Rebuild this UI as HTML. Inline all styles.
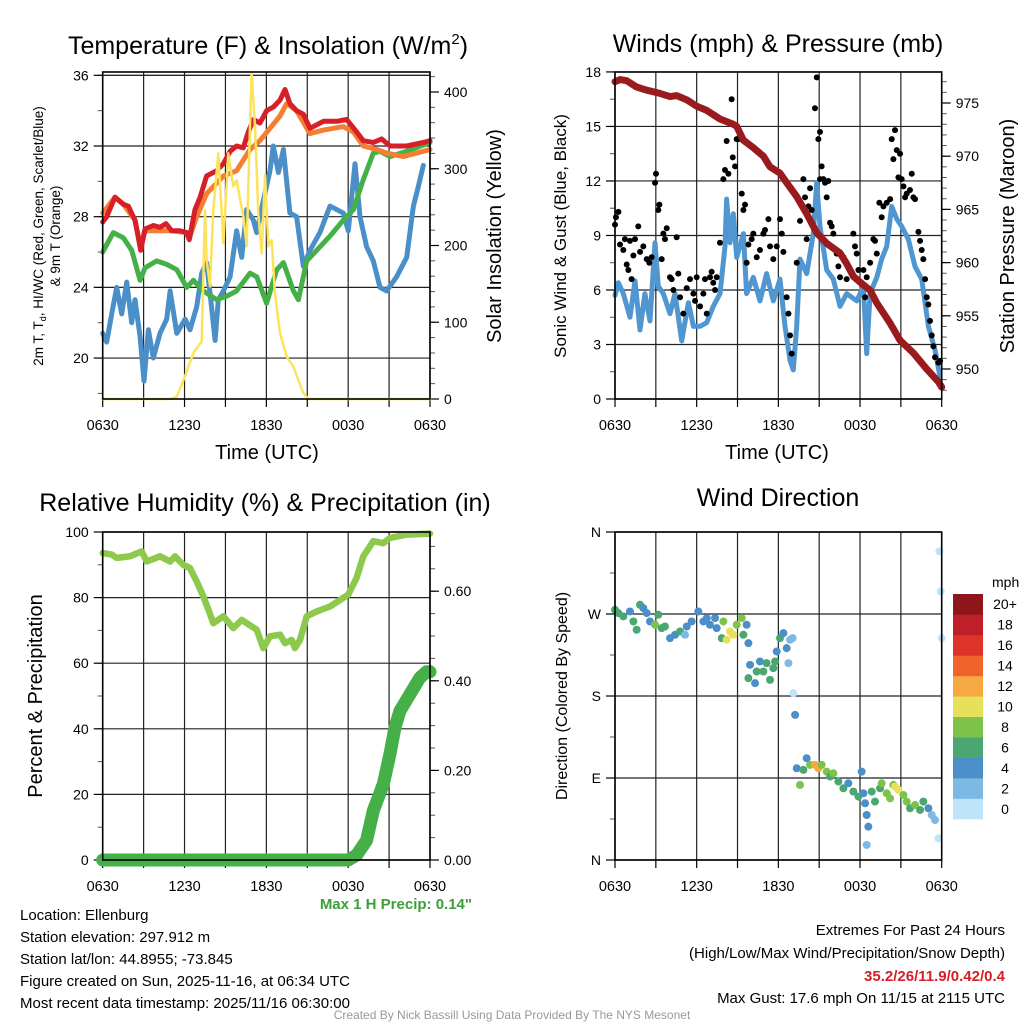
<!DOCTYPE html>
<html><head><meta charset="utf-8">
<style>
html,body{margin:0;padding:0;background:#fff;}
svg{display:block;font-family:"Liberation Sans",Arial,sans-serif;}
</style></head>
<body>
<svg id="chart" width="1024" height="1024" viewBox="0 0 1024 1024" xmlns="http://www.w3.org/2000/svg">
<rect x="0" y="0" width="1024" height="1024" fill="#fff"/>
<g id="layer"></g>
<text x="268" y="54" font-size="25" text-anchor="middle">Temperature (F) &amp; Insolation (W/m<tspan font-size="15" dy="-10">2</tspan><tspan dy="10">)</tspan></text>
<text x="778" y="52" font-size="25" text-anchor="middle">Winds (mph) &amp; Pressure (mb)</text>
<text x="265" y="511" font-size="25" text-anchor="middle">Relative Humidity (%) &amp; Precipitation (in)</text>
<text x="778" y="506" font-size="25" text-anchor="middle">Wind Direction</text>
<text x="267" y="459" font-size="20" text-anchor="middle">Time (UTC)</text>
<text x="777" y="459" font-size="20" text-anchor="middle">Time (UTC)</text>
<text transform="translate(43,236) rotate(-90)" font-size="13.5" text-anchor="middle">2m T, T<tspan font-size="9" dy="3">d</tspan><tspan dy="-3">, HI/WC (Red, Green, Scarlet/Blue)</tspan></text>
<text transform="translate(60,236) rotate(-90)" font-size="13.5" text-anchor="middle">&amp; 9m T (Orange)</text>
<text transform="translate(501,236) rotate(-90)" font-size="20" text-anchor="middle">Solar Insolation (Yellow)</text>
<text transform="translate(566,236) rotate(-90)" font-size="17" text-anchor="middle">Sonic Wind &amp; Gust (Blue, Black)</text>
<text transform="translate(1014,236) rotate(-90)" font-size="20" text-anchor="middle">Station Pressure (Maroon)</text>
<text transform="translate(42,696) rotate(-90)" font-size="20" text-anchor="middle">Percent &amp; Precipitation</text>
<text transform="translate(567,696) rotate(-90)" font-size="16" text-anchor="middle">Direction (Colored By Speed)</text>
<text x="472" y="909" font-size="15" font-weight="bold" fill="#3a9f36" text-anchor="end">Max 1 H Precip: 0.14"</text>
<g font-size="15">
<text x="20" y="920">Location: Ellenburg</text>
<text x="20" y="942">Station elevation: 297.912 m</text>
<text x="20" y="964">Station lat/lon: 44.8955; -73.845</text>
<text x="20" y="986">Figure created on Sun, 2025-11-16, at 06:34 UTC</text>
<text x="20" y="1008">Most recent data timestamp: 2025/11/16 06:30:00</text>
</g>
<g font-size="15" text-anchor="end">
<text x="1005" y="935">Extremes For Past 24 Hours</text>
<text x="1005" y="958">(High/Low/Max Wind/Precipitation/Snow Depth)</text>
<text x="1005" y="981" font-weight="bold" fill="#d42026">35.2/26/11.9/0.42/0.4</text>
<text x="1005" y="1003">Max Gust: 17.6 mph On 11/15 at 2115 UTC</text>
</g>
<text x="512" y="1019" font-size="12" fill="#999" text-anchor="middle">Created By Nick Bassill Using Data Provided By The NYS Mesonet</text>
<text x="992" y="587" font-size="14">mph</text>
</svg>
<script>
// ---------- DATA ----------
const xTickLabels = ["0630","1230","1830","0030","0630"];
const tempTicks = [20,24,28,32,36];
const insolTicks = [0,100,200,300,400];
const windTicks = [0,3,6,9,12,15,18];
const presTicks = [950,955,960,965,970,975];
const rhTicks = [0,20,40,60,80,100];
const precipTicks = [0,0.2,0.4,0.6];
const dirTicks = ["N","E","S","W","N"];
const speedBins = ["0","2","4","6","8","10","12","14","16","18","20+"];
const speedColors = ["#bde4f8","#7db9e4","#4a8fc7","#4aa771","#7dc34b","#e6e05a","#f6a843","#f0632b","#dd3328","#bf1f28","#8e1519"];

const redT = [0,.29,.9,1.52,1.88,2.37,2.79,3.1,3.71,4.2,4.64,5.06,5.67,6.16,6.35,6.77,7.14,7.62,8.36,8.85,9.34,9.82,10.31,10.68,11.05,11.53,12.02,12.51,13.0,13.37,13.73,14.22,14.71,15.2,16.18,17.16,17.89,18.62,19.11,19.84,20.45,21.07,22.29,23.51,24];
const redV = [27.7,28.0,29.1,28.7,28.6,27.8,26.1,27.3,27.5,27.4,27.6,27.2,27.2,27.1,26.7,28.4,29.1,30.3,30.6,31.0,31.7,32.0,31.9,32.8,33.5,33.3,34.0,34.2,34.6,35.2,34.4,34.0,33.8,33.0,33.4,33.4,33.5,32.8,32.3,32.2,32.4,32.0,32.0,32.2,32.3];
const orangeT = [0,.9,1.52,2.37,2.79,3.1,4.2,5.06,6.16,6.35,6.89,7.62,8.85,9.82,10.8,11.53,12.27,13.0,13.49,14.22,15.2,16.18,17.64,18.38,19.11,20.09,20.82,22.04,23.51,24];
const orangeV = [28.2,29.1,28.7,27.8,26.3,27.2,27.2,27.2,27.1,26.8,28.0,29.3,30.3,30.6,31.8,32.3,33.0,33.7,34.4,34.0,32.7,32.9,33.1,32.8,32.0,31.8,31.6,31.4,31.7,31.8];
const greenT = [0,.78,1.52,2.13,2.74,3.1,3.96,4.69,5.43,6.16,6.65,7.38,8.36,9.09,9.82,10.8,11.29,12.02,12.76,13.25,13.98,14.35,14.96,15.69,16.67,17.64,18.38,19.11,19.84,20.33,21.07,22.29,24];
const greenV = [26.0,27.1,26.8,26.1,24.4,25.1,25.5,25.3,25.0,24.0,24.4,23.8,23.3,23.5,23.8,24.8,24.6,23.1,25.0,25.4,23.8,23.3,25.5,26.1,26.9,27.8,28.4,30.1,31.6,31.7,31.4,31.7,32.2];
const blueT = [0,.29,.66,1.03,1.39,1.76,2.13,2.37,2.74,3.03,3.35,3.71,4.2,4.69,4.94,5.43,6.04,6.4,6.89,7.26,7.62,7.87,8.24,8.48,8.85,9.34,9.82,10.19,10.56,11.05,11.29,11.78,12.27,12.51,12.88,13.25,13.73,14.22,14.71,15.2,15.93,16.67,17.64,18.01,18.5,18.87,19.35,19.84,20.33,20.82,21.55,22.29,22.78,23.14,23.51];
const blueV = [21.4,20.9,22.5,24.0,22.5,24.3,22.0,23.3,21.2,18.7,21.6,20.0,21.4,22.2,23.8,21.4,22.2,21.6,22.9,24.8,25.4,23.7,21.0,23.3,23.8,24.6,27.2,25.7,28.4,27.8,27.1,28.9,30.6,32.0,30.5,31.8,28.2,28.0,25.2,26.1,27.1,28.6,28.2,27.2,31.0,28.0,26.3,25.5,24.0,23.8,24.6,25.7,28.6,29.7,30.9];
const solarT = [0,4.94,5.43,6.04,6.65,7.26,7.5,7.62,7.87,8.11,8.48,8.85,9.21,9.58,9.82,10.31,10.56,10.8,10.92,11.17,11.41,11.66,11.9,12.15,12.39,12.63,13.0,13.49,13.98,14.71,15.08,24];
const solarV = [0,0,3,30,60,75,246,181,147,246,320,203,320,277,285,238,199,355,425,355,242,190,292,199,207,138,86,55,42,8,0,0];

const windT = [0,.24,.61,1.1,1.47,1.84,2.2,2.57,2.94,3.18,3.55,4.04,4.41,4.9,5.39,5.76,6.25,6.74,7.22,7.71,8.08,8.2,8.45,8.69,8.94,9.43,9.67,10.16,10.65,11.14,11.63,12.12,12.49,12.86,13.1,13.35,13.59,14.08,14.57,14.82,15.06,15.55,16.04,16.53,17.02,17.76,18.25,18.49,18.74,19.23,19.59,19.96,20.33,20.7,21.06,21.55,22.04,22.53,23.02,23.51,23.88];
const windV = [5.7,6.4,5.8,4.5,6.5,3.8,5.8,4.3,8.6,6.2,5.8,4.7,5.8,3.2,5.3,4,4,4.2,5.1,5.8,8.4,11.0,8.6,10.2,7.8,9.1,5.8,6.7,5.4,6.9,5.4,6.6,4,2.1,1.6,4,7.7,6.9,9.1,11.9,9.5,7.1,6.6,5.1,5.8,5.4,6.2,2.5,5.8,6.7,7.7,8.4,10.6,9.9,9.5,8.8,7.3,6.6,4,2.7,1.2];
const gustT = [0,.07,.25,.37,.61,.73,.86,.98,1.1,1.22,1.35,1.47,1.71,1.84,2.08,2.33,2.52,2.69,2.94,3.01,3.18,3.26,3.43,3.55,3.67,3.8,4.04,4.16,4.29,4.53,4.65,4.78,5.02,5.27,5.51,5.76,5.88,6.0,6.25,6.49,6.61,6.74,6.98,7.1,7.22,7.35,7.47,7.71,7.96,8.08,8.2,8.33,8.57,8.65,8.82,8.94,9.06,9.31,9.43,9.55,9.67,9.8,10.04,10.16,10.41,10.65,10.9,11.02,11.27,11.39,11.63,11.88,12.12,12.25,12.37,12.61,12.74,12.86,12.98,13.35,13.59,13.84,13.96,14.08,14.21,14.33,14.45,14.69,14.82,14.94,15.06,15.18,15.06,15.31,15.43,15.55,15.67,15.8,15.92,16.04,16.29,16.41,16.53,16.78,17.02,17.27,17.51,17.63,17.76,17.88,18.25,18.37,18.49,18.74,18.98,19.1,19.23,19.42,19.59,19.72,19.96,20.21,20.33,20.45,20.57,20.7,20.82,20.94,21.06,21.19,21.31,21.43,21.67,21.8,21.92,22.04,22.29,22.41,22.53,22.65,22.78,22.9,23.02,23.14,23.27,23.39,23.51,23.76,23.88];
const gustV = [9.6,10.0,10.3,8.5,8.2,8.8,7.4,7.1,8.7,6.6,7.9,8.8,9.5,8.1,8.4,7.7,7.5,7.8,11.9,12.4,10.4,10.7,7.7,9.1,8.8,9.4,6.7,6.6,6.0,8.9,6.9,5.6,4.7,6.1,6.6,5.8,5.4,6.7,5.1,5.8,6.6,4.7,6.7,7.0,6.4,6.0,6.7,8.6,12.1,12.6,14.2,12.4,16.5,13.3,12.8,14.3,14.3,11.3,10.4,10.7,7.5,8.5,8.8,9.1,7.8,8.2,9.1,9.3,9.9,8.4,7.7,8.4,9.9,9.1,8.1,5.6,4.7,3.5,2.5,7.5,9.8,12.1,11.1,8.8,10.6,11.6,10.4,16.0,17.7,14.3,14.7,12.8,12.1,12.1,11.9,11.1,12.0,9.7,9.5,9.1,8.0,7.3,6.7,7.8,6.6,7.1,9.1,8.4,8.0,7.1,7.1,5.6,6.7,7.5,8.8,8.7,8.0,10.8,10.0,10.6,10.8,11.0,14.3,13.2,14.8,13.7,12.2,13.5,12.1,11.7,11.1,11.3,11.5,12.4,11.1,11.0,9.2,8.7,8.2,7.7,6.6,5.6,5.2,4.3,3.5,2.9,2.3,2.0,2.1];
const presT = [0,.37,.86,1.59,2.33,3.3,4.04,4.53,5.27,6.0,6.74,7.71,8.69,8.94,9.43,10.16,10.9,11.39,12.12,12.61,13.35,14.08,14.82,15.55,16.53,17.02,17.51,18.25,18.74,19.23,20.21,20.94,21.92,22.9,23.76,24];
const presV = [977.0,977.2,977.1,976.5,976.2,975.9,975.6,975.7,975.3,974.7,974.3,973.5,973.0,972.8,971.5,970.8,970.0,969.0,968.4,967.5,966.2,964.6,962.8,961.8,960.9,959.9,958.7,957.9,957.4,956.2,954.3,952.7,951.5,950.0,948.8,948.3];

const rhT = [0,.66,1.03,2.0,2.86,3.23,4.2,4.94,5.3,5.91,6.4,6.89,7.38,7.75,8.11,8.85,9.58,10.19,11.29,11.78,12.27,13.0,13.37,13.86,14.1,14.47,14.96,15.69,16.67,17.64,18.01,18.62,19.11,19.84,20.58,21.07,22.29,24];
const rhV = [93.6,93.1,92.1,92.6,94.1,91.0,92.6,91.0,92.6,90.0,89.0,84.9,80.4,76.3,72.2,74.3,70.7,73.2,70.2,64.6,68.2,68.7,66.1,67.1,64.6,67.1,74.3,75.8,77.3,79.9,80.9,86.0,92.6,97.2,96.6,98.2,99.2,99.5];
const precipT = [0,18.0,18.62,19.35,19.84,20.58,21.07,21.43,21.8,22.53,23.26,23.75,24];
const precipV = [0,0,0.011,0.044,0.11,0.17,0.237,0.296,0.333,0.37,0.407,0.42,0.42];

const dirT = [0,.24,.61,1.1,1.35,1.59,1.84,2.08,2.33,2.57,2.94,3.18,3.43,3.67,4.04,4.41,4.78,5.14,5.27,5.63,6.12,6.49,6.74,6.98,7.35,7.47,7.84,7.96,8.2,8.45,8.69,8.94,9.31,9.43,9.67,9.8,9.92,9.8,10.29,10.41,10.65,10.9,11.14,11.39,11.63,11.76,11.88,12.12,12.37,12.61,12.74,12.86,13.05,13.1,13.23,13.35,13.59,13.84,14.08,14.33,14.69,14.94,15.18,15.55,15.8,16.04,16.41,16.78,17.14,17.51,17.88,18.12,18.25,18.37,18.49,18.61,18.49,18.86,19.1,19.47,19.59,19.96,20.21,20.45,20.57,20.82,21.19,21.43,21.67,22.04,22.41,22.65,23.02,23.27,23.51,23.76,23.83,23.93,24.0];
const dirV = [274.6,271,267.4,272.8,261.8,252.7,280.1,276.5,271,261.8,258.2,269.2,254.5,256.3,243.5,247.2,250.8,247.2,256.3,261.8,272.8,261.8,265.5,258.2,265.5,254.5,243.5,261.8,241.7,250.8,247.2,258.2,265.5,247.2,258.2,238,214.2,199.6,194.1,206.9,217.9,206.9,216.1,197.7,210.6,217.9,228.9,243.5,249,232.5,216.1,241.7,243.5,183.1,159.3,100.7,82.4,98.9,111.7,104.4,104.4,100.7,104.4,97,91.6,95.2,86.1,78.7,84.2,75.1,69.6,97,73.2,62.3,49.4,36.6,16.5,75.1,64.1,78.7,84.2,73.2,67.7,82.4,80.6,76.9,71.4,64.1,56.8,60.4,54.9,64.1,56.8,49.4,43.9,23.8,338.7,294.8,243.5];
const dirSpeed = [6,6,6,4,6,6,6,4,4,4,8,6,6,6,4,4,6,2,4,4,4,4,4,4,4,4,6,8,10,10,10,8,8,6,4,4,4,6,4,6,4,6,6,6,6,6,4,6,4,4,2,2,2,0,4,4,8,6,4,8,12,12,8,8,6,8,6,6,4,6,6,4,4,4,4,4,2,6,6,6,8,8,8,8,10,10,8,8,6,8,6,6,4,2,2,0,0,0,0];

// ---------- GEOMETRY ----------
const NS = "http://www.w3.org/2000/svg";
const layer = document.getElementById("layer");
const P1 = {x0:102.7,x1:430,y0:72,y1:399};
const P2 = {x0:615,x1:941.7,y0:72,y1:399};
const P3 = {x0:102.7,x1:430,y0:532,y1:860};
const P4 = {x0:615,x1:941.7,y0:532,y1:860};
function xs(P,h){return P.x0 + h/24*(P.x1-P.x0);}
const yTemp = v => 146 + (32-v)*17.67;
const yIns = v => 399 - v*0.7675;
const yWind = v => 399 - v*18.17;
const yPres = v => 103 + (975-v)*10.64;
const yRH = v => 860 - v*3.28;
const yPcp = v => 860 - v*448;
const yDir = v => 860 - v*0.9111;

function mk(tag, attrs, parent){
  const e = document.createElementNS(NS, tag);
  for (const k in attrs) e.setAttribute(k, attrs[k]);
  (parent||layer).appendChild(e);
  return e;
}
function txt(x,y,s,anchor,size,parent){
  const t = mk("text",{x:x,y:y,"text-anchor":anchor,"font-size":size},parent);
  t.textContent = s;
  return t;
}

function frame(P, name, hTicks, hy){
  const g = mk("g",{});
  
  
  for (let i=0;i<=8;i++){
    const x = xs(P,i*3);
    const l = mk("line",{x1:x,x2:x,y1:P.y0,y2:P.y1,stroke:"#222","stroke-width":1.2},g);
    
    
    const t = mk("line",{x1:x,x2:x,y1:P.y1,y2:P.y1+8,stroke:"#000","stroke-width":1.2},g);
    
    
  }
  hTicks.forEach(v=>{
    const y = hy(v);
    const l = mk("line",{x1:P.x0,x2:P.x1,y1:y,y2:y,stroke:"#222","stroke-width":1.2},g);
    
    
  });
  xTickLabels.forEach((s,i)=>{
    const t = txt(xs(P,i*6), P.y1+31, s, "middle", 14.5, g);
    
    
  });
  return g;
}
function border(P,name){
  const r = mk("rect",{x:P.x0,y:P.y0,width:P.x1-P.x0,height:P.y1-P.y0,fill:"none",stroke:"#000","stroke-width":1.6});
  
  
}
function yAxisTicks(P, side, ticks, fy, labels, minorStep, lo, hi, name, lblFmt){
  const g = mk("g",{});
  
  
  const x = side==="left"?P.x0:P.x1;
  const d = side==="left"?-1:1;
  for (let v=lo; v<=hi+1e-9; v+=minorStep){
    const y = fy(v);
    if (y<P.y0-0.5||y>P.y1+0.5) continue;
    const m = mk("line",{x1:x,x2:x+d*5,y1:y,y2:y,stroke:"#555","stroke-width":1},g);
    
    
  }
  ticks.forEach((v,i)=>{
    const y = fy(v);
    const t = mk("line",{x1:x,x2:x+d*9,y1:y,y2:y,stroke:"#000","stroke-width":1.2},g);
    
    
    const s = labels ? labels[i] : (lblFmt?lblFmt(v):String(v));
    const lb = txt(side==="left"?x-14:x+14, y+5, s, side==="left"?"end":"start", 14, g);
    
    
  });
}
function line(P, T, V, fy, color, w, name, parent){
  const pts = T.map((t,i)=>xs(P,t).toFixed(1)+","+fy(V[i]).toFixed(1)).join(" ");
  const p = mk("polyline",{points:pts,fill:"none",stroke:color,"stroke-width":w,"stroke-linejoin":"round","stroke-linecap":"round"},parent);
  
  
  return p;
}

// ---------- PANEL 1 ----------
frame(P1,"temperature",tempTicks.concat([36]),yTemp);
yAxisTicks(P1,"left",tempTicks,yTemp,null,2,18,36,"temperature-y-axis");
yAxisTicks(P1,"right",insolTicks,yIns,null,20,0,420,"insolation-y-axis");
line(P1,blueT,blueV,yTemp,"#4b8fc9",5,"wind-chill-line");
line(P1,greenT,greenV,yTemp,"#46b048",5,"dewpoint-line");
line(P1,orangeT,orangeV,yTemp,"#f47f32",5,"temperature-9m-line");
line(P1,redT,redV,yTemp,"#d61f29",5,"temperature-2m-line");
line(P1,solarT,solarV,yIns,"#fde35b",2.5,"solar-insolation-line");
border(P1,"temperature");

// ---------- PANEL 2 ----------
frame(P2,"winds",windTicks,yWind);
yAxisTicks(P2,"left",windTicks,yWind,null,1.5,0,18,"wind-y-axis");
yAxisTicks(P2,"right",presTicks,yPres,null,1,947,978,"pressure-y-axis");
line(P2,windT,windV,yWind,"#5096d0",5,"sonic-wind-line");
const gg = mk("g",{});


gustT.forEach((t,i)=>{
  const c = mk("circle",{cx:xs(P2,t),cy:yWind(gustV[i]),r:3,fill:"#000"},gg);
  
  
});
line(P2,presT,presV,yPres,"#9a1b1e",7,"station-pressure-line");
border(P2,"winds");

// ---------- PANEL 3 ----------
frame(P3,"humidity",rhTicks,yRH);
yAxisTicks(P3,"left",rhTicks,yRH,null,10,0,100,"humidity-y-axis");
yAxisTicks(P3,"right",precipTicks,yPcp,null,0.05,0,0.7,"precip-y-axis",v=>v.toFixed(2));
line(P3,rhT,rhV,yRH,"#8dc94c",6.5,"relative-humidity-line");
line(P3,precipT,precipV,yPcp,"#46b048",13,"precipitation-line");
border(P3,"humidity");

// ---------- PANEL 4 ----------
frame(P4,"direction",[0,90,180,270,360],yDir);
yAxisTicks(P4,"left",[0,90,180,270,360],yDir,dirTicks,45,0,360,"direction-y-axis");
const dg = mk("g",{});


dirT.forEach((t,i)=>{
  const idx = Math.min(10, Math.round(dirSpeed[i]/2));
  const c = mk("circle",{cx:xs(P4,t),cy:yDir(dirV[i]),r:4,fill:speedColors[idx]},dg);
  
  
});
border(P4,"direction");

// colorbar
const cb = mk("g",{});


const cbTop = 594, cbH = 225/11;
speedBins.forEach((s,i)=>{
  const y = cbTop + (10-i)*cbH;
  const r = mk("rect",{x:953,y:y,width:30,height:cbH+0.3,fill:speedColors[i]},cb);
  
  
  const t = txt(1005, y+cbH/2+5, s, "middle", 14, cb);
  
  
});
</script>
</body></html>
